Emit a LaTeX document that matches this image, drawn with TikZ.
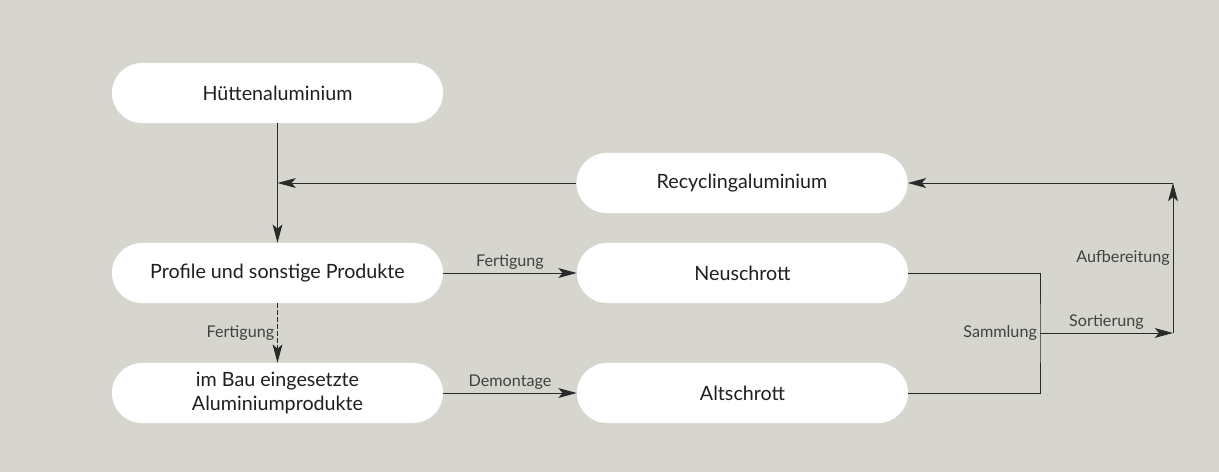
\documentclass[tikz,border=0pt]{standalone}
\usepackage{fontspec}
\setsansfont{Lato}
\usetikzlibrary{arrows.meta,positioning}
\definecolor{bggray}{HTML}{D6D6CF}
\definecolor{txtdark}{HTML}{1F1F1F}
\definecolor{linedark}{HTML}{2A2A2A}

\begin{document}
\begin{tikzpicture}[
  x=0.025cm, y=-0.025cm,
  font=\sffamily, >=Stealth,
  stock/.style={rounded corners=0.75cm, fill=white, text=txtdark, minimum width=8.275cm, minimum height=1.5cm, inner sep=0pt, align=center, font=\sffamily\fontsize{14}{16.5}\selectfont},
  lbl/.style={font=\sffamily\fontsize{11.5}{13}\selectfont, color=txtdark!85, inner sep=2pt},
  flow/.style={-{Stealth[length=13pt,width=7pt,inset=3pt]}, line width=0.65pt, color=linedark},
  plain/.style={line width=0.65pt, color=linedark},
]

\fill[bggray] (0,0) rectangle (1219,472);
% stocks
\node[stock] (huette) at (277.5,93) {Hüttenaluminium};
\node[stock] (recyc) at (742,183) {Recyclingaluminium};
\node[stock] (profil) at (277.5,273) {Profile und sonstige Produkte};
\node[stock] (neu) at (742.5,273) {Neuschrott};
\node[stock] (bau) at (277.5,393) {im Bau eingesetzte\\Aluminiumprodukte};
\node[stock] (alt) at (742.5,393) {Altschrott};
% corner points
\coordinate (merge) at (huette.south |- recyc.west);
\coordinate (samm) at (1040,333);
\coordinate (sort) at (1173,333);
\coordinate (aufb) at (1173,183);
% flows
\draw[flow] (huette.south) -- (profil.north);
\draw[flow] (recyc.west) -- (merge);
\draw[flow,densely dashed] (profil.south) -- (bau.north) node[lbl,midway,left] {Fertigung};
\draw[flow] (profil.east) -- (neu.west) node[lbl,midway,above] {Fertigung};
\draw[flow] (bau.east) -- (alt.west) node[lbl,midway,above] {Demontage};
\draw[plain] (neu.east) -| (samm) |- (alt.east);
\node[lbl,left] (sammlbl) at (samm) {Sammlung};
\draw[flow] (samm) -- (sort) node[lbl,midway,above] {Sortierung};
\draw[flow] (sort) -- (aufb) node[lbl,midway,left] {Aufbereitung};
\draw[flow] (aufb) -- (recyc.east);

\end{tikzpicture}
\end{document}
